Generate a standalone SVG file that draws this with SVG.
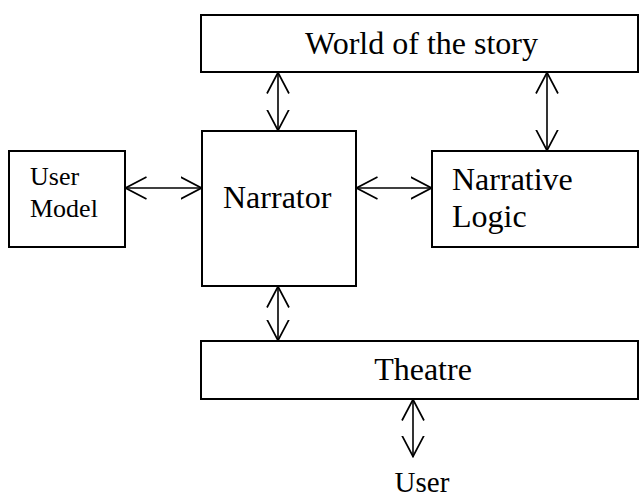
<svg xmlns="http://www.w3.org/2000/svg" width="639" height="497" viewBox="0 0 639 497">
<style>
.box{fill:#fff;stroke:#000;stroke-width:2}
.t{font-family:'Liberation Serif','Times New Roman',Times,serif;fill:#000}
.c{stroke:#000;stroke-width:1.6;fill:none}
</style>
<defs>
<marker id="ah" viewBox="0 0 22 24" refX="21.5" refY="12" markerWidth="22" markerHeight="24" markerUnits="userSpaceOnUse" orient="auto-start-reverse">
<path d="M0,1 L21,12 L0,23" fill="none" stroke="#000" stroke-width="1.7"/>
</marker>
</defs>
<rect width="639" height="497" fill="#fff"/>
<g id="world">
<rect class="box" x="201" y="15" width="437" height="57"/>
<text class="t" x="421.5" y="54" font-size="32" text-anchor="middle">World of the story</text>
</g>
<g id="narrator">
<rect class="box" x="202" y="131" width="154" height="155"/>
<text class="t" x="223" y="208" font-size="32">Narrator</text>
</g>
<g id="usermodel">
<rect class="box" x="9" y="151" width="116" height="96"/>
<text class="t" x="30" y="185" font-size="26">User</text>
<text class="t" x="30" y="217" font-size="26">Model</text>
</g>
<g id="narrativelogic">
<rect class="box" x="432" y="151" width="206" height="96"/>
<text class="t" x="452" y="190" font-size="32">Narrative</text>
<text class="t" x="452" y="227" font-size="32">Logic</text>
</g>
<g id="theatre">
<rect class="box" x="201" y="341" width="437" height="58"/>
<text class="t" x="423" y="380" font-size="32" text-anchor="middle">Theatre</text>
</g>
<g id="user">
<text class="t" x="422" y="492" font-size="29" text-anchor="middle">User</text>
</g>
<g id="connectors">
<line class="c" x1="278" y1="72" x2="278" y2="131" marker-start="url(#ah)" marker-end="url(#ah)"/>
<line class="c" x1="547" y1="72" x2="547" y2="151" marker-start="url(#ah)" marker-end="url(#ah)"/>
<line class="c" x1="125" y1="188" x2="202" y2="188" marker-start="url(#ah)" marker-end="url(#ah)"/>
<line class="c" x1="356" y1="188" x2="432" y2="188" marker-start="url(#ah)" marker-end="url(#ah)"/>
<line class="c" x1="278" y1="286" x2="278" y2="341" marker-start="url(#ah)" marker-end="url(#ah)"/>
<line class="c" x1="413" y1="399" x2="413" y2="457" marker-start="url(#ah)" marker-end="url(#ah)"/>
</g>
</svg>
